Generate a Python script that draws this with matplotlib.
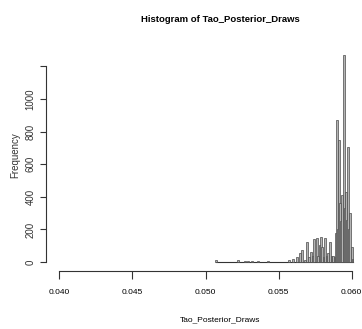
import matplotlib
matplotlib.use("Agg")
import matplotlib.pyplot as plt

# bin centers and counts
centers = [0.0507, 0.0522, 0.0527, 0.0529, 0.0532, 0.0536, 0.0543, 0.0557, 0.0560,
           0.05624, 0.05646, 0.05662, 0.0568, 0.05696, 0.0571, 0.05722, 0.05735,
           0.05744, 0.05761, 0.0577, 0.05781, 0.05788, 0.05799, 0.05808, 0.05817,
           0.05828, 0.0584, 0.05852, 0.05862, 0.05872, 0.05882, 0.05891, 0.05897,
           0.05905, 0.05913, 0.0592, 0.05927, 0.05934, 0.05945, 0.05952, 0.05959,
           0.05967, 0.05975, 0.05982, 0.05989, 0.06, 0.06006]
counts = [15, 15, 5, 8, 4, 4, 6, 10, 20,
          33, 55, 74, 15, 125, 30, 63, 40,
          139, 147, 35, 104, 155, 90, 30, 145,
          40, 53, 120, 35, 40, 30, 178, 871,
          200, 748, 362, 250, 410, 1270, 330, 431,
          260, 707, 200, 300, 94, 20]

x_ticks = [0.040, 0.045, 0.050, 0.055, 0.060]
x_ticklabels = ["0.040", "0.045", "0.050", "0.055", "0.060"]
y_ticks = [0, 200, 400, 600, 800, 1000, 1200]
y_ticklabels = ["0", "200", "400", "600", "800", "1000", ""]

W, H = 362, 329
fig = plt.figure(figsize=(W / 100, H / 100), dpi=100)
fig.patch.set_facecolor("white")
ax = fig.add_axes([52 / W, (H - 270.2) / H, 307 / W, (270.2 - 50.1) / H])
ax.set_facecolor("white")

# baseline of the histogram (zero-count bins)
ax.plot([min(centers), max(centers)], [0, 0], color="#333333", lw=0.8, zorder=1)
ax.bar(centers, counts, width=0.00012, color="#b4b4b4", edgecolor="#4a4a4a",
       linewidth=0.5, align="center", zorder=2)

ax.set_xlim(0.0395, 0.0605)
ax.set_ylim(-50, 1300)

for s in ["top", "right"]:
    ax.spines[s].set_visible(False)
ax.spines["bottom"].set_bounds(0.040, 0.060)
ax.spines["bottom"].set_position(("outward", 0.5))
ax.spines["left"].set_bounds(0, 1200)
ax.spines["left"].set_position(("outward", 4))
for s in ["bottom", "left"]:
    ax.spines[s].set_linewidth(0.8)
    ax.spines[s].set_color("#333333")

ax.set_xticks(x_ticks)
ax.set_xticklabels(x_ticklabels, fontfamily="Liberation Sans", fontsize=6)
ax.set_yticks(y_ticks)
ax.set_yticklabels(y_ticklabels, fontfamily="Liberation Sans", fontsize=7,
                   rotation=90, va="center", color="#333333")
ax.tick_params(axis="x", length=6, width=0.8, color="#333333", pad=7)
ax.tick_params(axis="y", length=4, width=0.8, color="#333333", pad=4)

fig.text(220 / W, 1 - 20 / H, "Histogram of Tao_Posterior_Draws", ha="center",
         va="center", fontfamily="Liberation Sans", fontweight="bold", fontsize=6.8)
fig.text(220 / W, 1 - 320 / H, "Tao_Posterior_Draws", ha="center", va="center",
         fontfamily="Liberation Sans", fontsize=6)
fig.text(15 / W, 1 - 155 / H, "Frequency", ha="center", va="center",
         rotation=90, fontfamily="Liberation Sans", fontsize=7, color="#333333")

fig.savefig("out.png", dpi=100)
